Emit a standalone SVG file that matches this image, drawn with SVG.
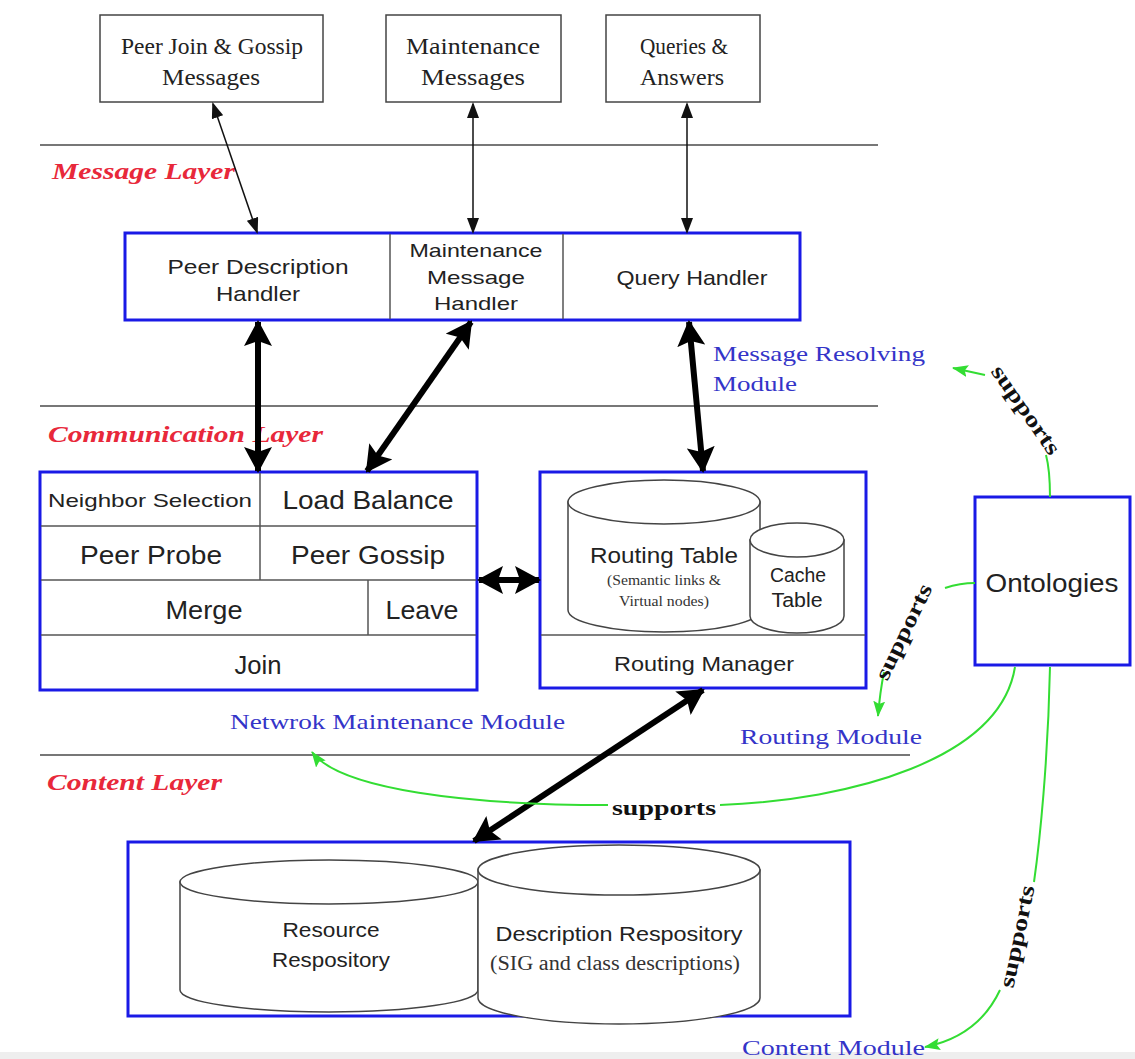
<svg xmlns="http://www.w3.org/2000/svg" width="1135" height="1059" viewBox="0 0 1135 1059">
<style>
.gbox{fill:#fff;stroke:#444;stroke-width:1.5}
.bbox{fill:#fff;stroke:#1a1ae6;stroke-width:3}
.div{stroke:#555;stroke-width:1.5;fill:none}
.layer{stroke:#777;stroke-width:2}
.serif{font-family:"Liberation Serif",serif;fill:#222;font-size:23px}
.sans{font-family:"Liberation Sans",Arial,sans-serif;fill:#222}
.red{font-family:"Liberation Serif",serif;font-style:italic;font-weight:bold;fill:#e8283a;font-size:24px}
.blue{font-family:"Liberation Serif",serif;fill:#3434c8;font-size:22px}
.sup{font-family:"Liberation Serif",serif;font-weight:bold;fill:#111;font-size:22px}
.small{font-family:"Liberation Serif",serif;fill:#333}
.thin{stroke:#111;stroke-width:1.5;fill:none}
.thick{stroke:#000;stroke-width:6;fill:none}
.green{stroke:#33dd33;stroke-width:2;fill:none}
.cyl{fill:#fff;stroke:#444;stroke-width:1.5}
</style>
<defs>
<marker id="ah" markerUnits="userSpaceOnUse" markerWidth="16" markerHeight="12" refX="14" refY="6" orient="auto-start-reverse"><path d="M0,0 L16,6 L0,12 Z" fill="#111"/></marker>
<marker id="ahT" markerUnits="userSpaceOnUse" markerWidth="26" markerHeight="28" refX="24" refY="14" orient="auto-start-reverse"><path d="M0,0 L26,14 L0,28 L5,14 Z" fill="#000"/></marker>
<marker id="ahG" markerUnits="userSpaceOnUse" markerWidth="16" markerHeight="12" refX="15" refY="6" orient="auto"><path d="M0,0 L16,6 L0,12 L3,6 Z" fill="#33dd33"/></marker>
</defs>
<rect width="1135" height="1059" fill="#fff"/>
<rect x="0" y="1052" width="1135" height="7" fill="#eeeeee"/>

<!-- layer lines -->
<line class="layer" x1="40" y1="145" x2="878" y2="145"/>
<line class="layer" x1="40" y1="406" x2="878" y2="406"/>
<line class="layer" x1="40" y1="755" x2="910" y2="755"/>
<text class="red" x="52" y="179" textLength="183" lengthAdjust="spacingAndGlyphs">Message Layer</text>
<text class="red" x="48" y="442" textLength="275" lengthAdjust="spacingAndGlyphs">Communication Layer</text>
<text class="red" x="47" y="790" textLength="175" lengthAdjust="spacingAndGlyphs">Content Layer</text>

<!-- top message boxes -->
<g id="peer-join-gossip-messages">
<rect class="gbox" x="100" y="15" width="223" height="87"/>
<text class="serif" x="212" y="54" text-anchor="middle" textLength="182" lengthAdjust="spacingAndGlyphs">Peer Join &amp; Gossip</text>
<text class="serif" x="211" y="85" text-anchor="middle" textLength="98" lengthAdjust="spacingAndGlyphs">Messages</text>
</g>
<g id="maintenance-messages">
<rect class="gbox" x="386" y="15" width="175" height="87"/>
<text class="serif" x="473" y="54" text-anchor="middle" textLength="134" lengthAdjust="spacingAndGlyphs">Maintenance</text>
<text class="serif" x="473" y="85" text-anchor="middle" textLength="104" lengthAdjust="spacingAndGlyphs">Messages</text>
</g>
<g id="queries-answers">
<rect class="gbox" x="606" y="15" width="154" height="87"/>
<text class="serif" x="684" y="54" text-anchor="middle" textLength="88" lengthAdjust="spacingAndGlyphs">Queries &amp;</text>
<text class="serif" x="682" y="85" text-anchor="middle" textLength="84" lengthAdjust="spacingAndGlyphs">Answers</text>
</g>

<!-- message resolving module -->
<g id="message-resolving-module">
<rect class="bbox" x="125" y="233" width="675" height="87"/>
<line class="div" x1="390" y1="234" x2="390" y2="319"/>
<line class="div" x1="563" y1="234" x2="563" y2="319"/>
<text class="sans" font-size="21" x="258" y="274" text-anchor="middle" textLength="181" lengthAdjust="spacingAndGlyphs">Peer Description</text>
<text class="sans" font-size="21" x="258" y="301" text-anchor="middle" textLength="84" lengthAdjust="spacingAndGlyphs">Handler</text>
<text class="sans" font-size="19" x="476" y="257" text-anchor="middle" textLength="133" lengthAdjust="spacingAndGlyphs">Maintenance</text>
<text class="sans" font-size="19" x="476" y="284" text-anchor="middle" textLength="98" lengthAdjust="spacingAndGlyphs">Message</text>
<text class="sans" font-size="19" x="476" y="310" text-anchor="middle" textLength="84" lengthAdjust="spacingAndGlyphs">Handler</text>
<text class="sans" font-size="21" x="692" y="285" text-anchor="middle" textLength="151" lengthAdjust="spacingAndGlyphs">Query Handler</text>
<text class="blue" x="713" y="361" textLength="212" lengthAdjust="spacingAndGlyphs">Message Resolving</text>
<text class="blue" x="713" y="391" textLength="84" lengthAdjust="spacingAndGlyphs">Module</text>
</g>

<!-- network maintenance module -->
<g id="network-maintenance-module">
<rect class="bbox" x="40" y="472" width="437" height="218"/>
<line class="div" x1="41" y1="526" x2="476" y2="526"/>
<line class="div" x1="41" y1="580" x2="476" y2="580"/>
<line class="div" x1="41" y1="635" x2="476" y2="635"/>
<line class="div" x1="260" y1="473" x2="260" y2="580"/>
<line class="div" x1="368" y1="580" x2="368" y2="635"/>
<text class="sans" font-size="19" x="150" y="507" text-anchor="middle" textLength="204" lengthAdjust="spacingAndGlyphs">Neighbor Selection</text>
<text class="sans" font-size="25" x="368" y="509" text-anchor="middle" textLength="171" lengthAdjust="spacingAndGlyphs">Load Balance</text>
<text class="sans" font-size="25" x="151" y="564" text-anchor="middle" textLength="142" lengthAdjust="spacingAndGlyphs">Peer Probe</text>
<text class="sans" font-size="25" x="368" y="564" text-anchor="middle" textLength="154" lengthAdjust="spacingAndGlyphs">Peer Gossip</text>
<text class="sans" font-size="25" x="204" y="619" text-anchor="middle" textLength="77" lengthAdjust="spacingAndGlyphs">Merge</text>
<text class="sans" font-size="25" x="422" y="619" text-anchor="middle" textLength="73" lengthAdjust="spacingAndGlyphs">Leave</text>
<text class="sans" font-size="25" x="258" y="674" text-anchor="middle" textLength="47" lengthAdjust="spacingAndGlyphs">Join</text>
<text class="blue" x="230" y="729" textLength="335" lengthAdjust="spacingAndGlyphs">Netwrok Maintenance Module</text>
</g>

<!-- routing module -->
<g id="routing-module">
<rect class="bbox" x="540" y="472" width="326" height="216"/>
<line class="div" x1="541" y1="635" x2="865" y2="635"/>
<path class="cyl" d="M568,502 L568,610 A96,22 0 0 0 760,610 L760,502 Z"/>
<ellipse class="cyl" cx="664" cy="502" rx="96" ry="22"/>
<path class="cyl" d="M750,540 L750,616 A47,17 0 0 0 844,616 L844,540 Z"/>
<ellipse class="cyl" cx="797" cy="540" rx="47" ry="17"/>
<text class="sans" font-size="22" x="664" y="563" text-anchor="middle" textLength="148" lengthAdjust="spacingAndGlyphs">Routing Table</text>
<text class="small" font-size="15" x="664" y="585" text-anchor="middle" textLength="114" lengthAdjust="spacingAndGlyphs">(Semantic links &amp;</text>
<text class="small" font-size="15" x="664" y="606" text-anchor="middle" textLength="90" lengthAdjust="spacingAndGlyphs">Virtual nodes)</text>
<text class="sans" font-size="20" x="798" y="582" text-anchor="middle" textLength="56" lengthAdjust="spacingAndGlyphs">Cache</text>
<text class="sans" font-size="20" x="797" y="607" text-anchor="middle" textLength="51" lengthAdjust="spacingAndGlyphs">Table</text>
<text class="sans" font-size="21" x="704" y="671" text-anchor="middle" textLength="180" lengthAdjust="spacingAndGlyphs">Routing Manager</text>
<text class="blue" x="740" y="744" textLength="182" lengthAdjust="spacingAndGlyphs">Routing Module</text>
</g>

<!-- content module -->
<g id="content-module">
<rect class="bbox" x="128" y="842" width="722" height="174"/>
<path class="cyl" d="M180,882 L180,990 A149,22 0 0 0 478,990 L478,882 Z"/>
<ellipse class="cyl" cx="329" cy="882" rx="149" ry="22"/>
<path class="cyl" d="M478,870 L478,998 A141,26 0 0 0 760,998 L760,870 Z"/>
<ellipse class="cyl" cx="619" cy="870" rx="141" ry="25"/>
<text class="sans" font-size="21" x="331" y="937" text-anchor="middle" textLength="97" lengthAdjust="spacingAndGlyphs">Resource</text>
<text class="sans" font-size="21" x="331" y="967" text-anchor="middle" textLength="118" lengthAdjust="spacingAndGlyphs">Respository</text>
<text class="sans" font-size="21" x="619" y="941" text-anchor="middle" textLength="247" lengthAdjust="spacingAndGlyphs">Description Respository</text>
<text class="small" font-size="20" fill="#222" x="615" y="970" text-anchor="middle" textLength="250" lengthAdjust="spacingAndGlyphs">(SIG and class descriptions)</text>
<text class="blue" x="742" y="1055" textLength="183" lengthAdjust="spacingAndGlyphs">Content Module</text>
</g>

<!-- ontologies -->
<g id="ontologies">
<rect class="bbox" x="975" y="497" width="155" height="168"/>
<text class="sans" font-size="26" x="1052" y="592" text-anchor="middle" textLength="133" lengthAdjust="spacingAndGlyphs">Ontologies</text>
</g>

<!-- connectors -->
<g id="connectors">
<line class="thin" x1="213" y1="104" x2="257" y2="232" marker-start="url(#ah)" marker-end="url(#ah)"/>
<line class="thin" x1="473" y1="104" x2="473" y2="232" marker-start="url(#ah)" marker-end="url(#ah)"/>
<line class="thin" x1="687" y1="104" x2="687" y2="232" marker-start="url(#ah)" marker-end="url(#ah)"/>

<line class="thick" x1="258" y1="322" x2="258" y2="471" marker-start="url(#ahT)" marker-end="url(#ahT)"/>
<line class="thick" x1="471" y1="322" x2="367" y2="471" marker-start="url(#ahT)" marker-end="url(#ahT)"/>
<line class="thick" x1="689" y1="322" x2="703" y2="471" marker-start="url(#ahT)" marker-end="url(#ahT)"/>
<line class="thick" x1="479" y1="580" x2="539" y2="580" marker-start="url(#ahT)" marker-end="url(#ahT)"/>
<line class="thick" x1="703" y1="690" x2="474" y2="841" marker-start="url(#ahT)" marker-end="url(#ahT)"/>

<!-- green supports -->
<path class="green" d="M1050,497 Q1050,470 1046,455"/>
<path class="green" d="M985,375 L953,368" marker-end="url(#ahG)"/>
<text class="sup" transform="translate(1020,414) rotate(55)" text-anchor="middle" textLength="104" lengthAdjust="spacingAndGlyphs">supports</text>

<path class="green" d="M975,583 Q960,583 945,588"/>
<path class="green" d="M884,672 Q880,692 878,716" marker-end="url(#ahG)"/>
<text class="sup" transform="translate(910,635) rotate(-64)" text-anchor="middle" textLength="104" lengthAdjust="spacingAndGlyphs">supports</text>

<path class="green" d="M1015,667 C1000,760 850,800 720,805"/>
<path class="green" d="M608,805 C470,805 340,790 312,752" marker-end="url(#ahG)"/>
<text class="sup" x="664" y="815" text-anchor="middle" textLength="104" lengthAdjust="spacingAndGlyphs">supports</text>

<path class="green" d="M1050,667 C1048,760 1040,840 1034,882"/>
<path class="green" d="M1000,990 C985,1022 960,1040 925,1047" marker-end="url(#ahG)"/>
<text class="sup" transform="translate(1024,938) rotate(-78)" text-anchor="middle" textLength="104" lengthAdjust="spacingAndGlyphs">supports</text>
</g>
</svg>
